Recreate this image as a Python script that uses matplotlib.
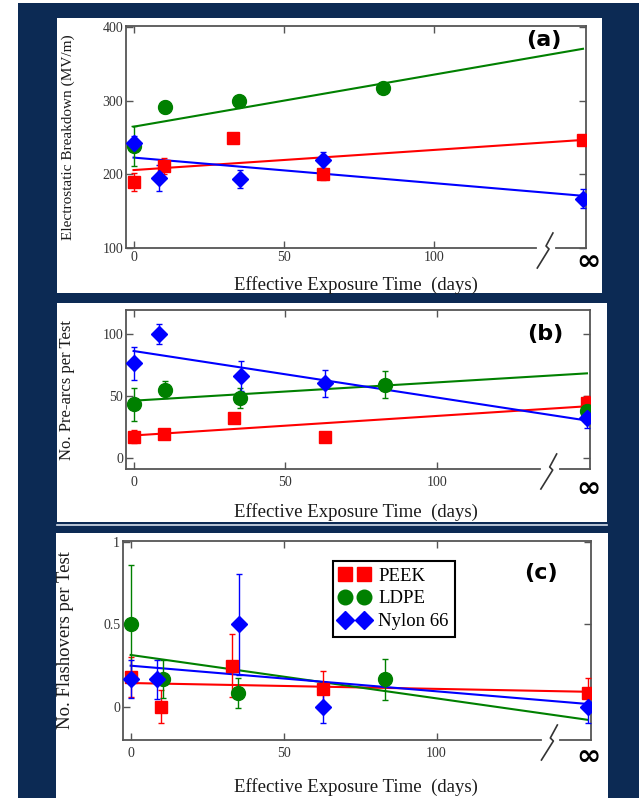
import numpy as np
import matplotlib
matplotlib.use("Agg")
import matplotlib.pyplot as plt
from matplotlib.patches import Rectangle
from matplotlib.lines import Line2D

W, H = 639, 798
X_INF = 149.5          # where the "infinity" exposure is drawn
NAVY = "#0c2a54"
SPINE = "#555555"

materials = ["PEEK", "LDPE", "Nylon 66"]
colors = ["#ff0000", "#008000", "#0000ff"]
markers = ["s", "o", "D"]
msizes = [9, 10, 8.5]

# effective exposure time (days), last point = infinity
days_peek = [0, 10, 33, 63, np.inf]
days_ldpe = [0, 10.5, 35, 83, np.inf]
days_nylon = [0, 8.5, 35.5, 63, np.inf]

# (a) electrostatic breakdown (MV/m)
bd_peek = [190, 211, 249, 201, 247]
bd_peek_err = [12, 11, 0, 8, 3]
bd_ldpe = [239, 292, 300, 317, np.nan]
bd_ldpe_err = [27, 8, 7, 4, np.nan]
bd_nylon = [243, 195, 194, 220, 167]
bd_nylon_err = [10, 18, 12, 11, 13]
bd_fit = [[206, 247], [265, 371], [223, 171]]   # fit value at day 0 and at infinity

# (b) pre-arcs per test
pa_peek = [17, 19, 32, 17, 44]
pa_peek_err = [5, 2, 3, 2, 6]
pa_ldpe = [43, 55, 48, 59, 38]
pa_ldpe_err = [13, 7, 8, 11, 10]
pa_nylon = [76, 100, 66, 60, 32]
pa_nylon_err = [13, 8, 12, 11, 8]
pa_fit = [[18, 41.5], [46, 68], [86, 30]]

# (c) flashovers per test
fo_peek = [0.18, 0.0, 0.25, 0.11, 0.083]
fo_peek_err = [0.12, 0.1, 0.19, 0.105, 0.09]
fo_ldpe = [0.5, 0.167, 0.083, 0.167, np.nan]
fo_ldpe_err = [0.36, 0.115, 0.09, 0.125, np.nan]
fo_nylon = [0.167, 0.167, 0.5, 0.0, 0.0]
fo_nylon_err = [0.115, 0.12, 0.305, 0.1, 0.1]
fo_fit = [[0.145, 0.092], [0.315, -0.078], [0.25, 0.018]]


def fig_rect(x0, y0, x1, y1):
    return (x0 / W, 1 - y1 / H, (x1 - x0) / W, (y1 - y0) / H)


def xpos(days):
    return [X_INF if np.isinf(d) else d for d in days]


fig = plt.figure(figsize=(W / 100, H / 100), dpi=100, facecolor="white")

# navy background and white panels
fig.add_artist(Rectangle((18 / W, 0), 1, 1 - 3 / H, transform=fig.transFigure,
                         facecolor=NAVY, edgecolor="none", zorder=-5))
for x0, y0, x1, y1 in [(57, 18, 602, 293), (57, 303, 607, 522), (56, 533, 608, 800)]:
    l, b, w, h = fig_rect(x0, y0, x1, y1)
    fig.add_artist(Rectangle((l, b), w, h, transform=fig.transFigure,
                             facecolor="white", edgecolor="none", zorder=-4))
fig.add_artist(Line2D([57 / W, 607 / W], [1 - 525 / H] * 2, transform=fig.transFigure,
                      color="#d8e0ec", lw=1.2, zorder=-3))

panels = [
    dict(box=(126, 26, 586, 248), ylim=(100, 402), yticks=[100, 200, 300, 400],
         ylabels=["100", "200", "300", "400"], ylabel="Electrostatic Breakdown (MV/m)",
         vals=[bd_peek, bd_ldpe, bd_nylon], errs=[bd_peek_err, bd_ldpe_err, bd_nylon_err],
         fit=bd_fit, tag="(a)", tagpos=(544, 40), xlab_y=285, inf_y=262, ylab_x=68,
         ylab_size=11, xpad=2),
    dict(box=(126, 310, 590, 469), ylim=(-9, 119), yticks=[0, 50, 100],
         ylabels=["0", "50", "100"], ylabel="No. Pre-arcs per Test",
         vals=[pa_peek, pa_ldpe, pa_nylon], errs=[pa_peek_err, pa_ldpe_err, pa_nylon_err],
         fit=pa_fit, tag="(b)", tagpos=(545, 334), xlab_y=512, inf_y=489, ylab_x=67,
         ylab_size=12, xpad=5),
    dict(box=(123, 541, 591, 740), ylim=(-0.2, 1.005), yticks=[0, 0.5, 1],
         ylabels=["0", "0.5", "1"], ylabel="No. Flashovers per Test",
         vals=[fo_peek, fo_ldpe, fo_nylon], errs=[fo_peek_err, fo_ldpe_err, fo_nylon_err],
         fit=fo_fit, tag="(c)", tagpos=(541, 573), xlab_y=787, inf_y=757, ylab_x=66,
         ylab_size=13.5, xpad=5),
]

all_days = [days_peek, days_ldpe, days_nylon]
serif = "Liberation Serif"

for p in panels:
    ax = fig.add_axes(fig_rect(*p["box"]))
    ax.set_facecolor("white")
    ax.set_xlim(-2.5, 150.5)
    ax.set_ylim(*p["ylim"])

    for i in range(3):
        ax.plot([0, X_INF], p["fit"][i], color=colors[i], lw=1.5, zorder=2)
    for i in range(3):
        ax.errorbar(xpos(all_days[i]), p["vals"][i], yerr=p["errs"][i], fmt=markers[i],
                    color=colors[i], ms=msizes[i], mec=colors[i], elinewidth=1,
                    capsize=2.5, capthick=1, zorder=3)

    ax.set_xticks([0, 50, 100])
    ax.set_xticklabels(["0", "50", "100"])
    ax.set_yticks(p["yticks"])
    ax.set_yticklabels(p["ylabels"])
    ax.tick_params(direction="in", length=5, width=1, color=SPINE, top=True, right=True,
                   labelsize=10, labelcolor="#333333")
    ax.tick_params(axis="x", pad=p["xpad"])
    ax.tick_params(axis="y", pad=2)
    for lab in ax.get_xticklabels() + ax.get_yticklabels():
        lab.set_family(serif)
    for s in ["left", "right", "top"]:
        ax.spines[s].set_color(SPINE)
        ax.spines[s].set_linewidth(1.3)
    ax.spines["bottom"].set_visible(False)

    # bottom spine with axis break
    tr = ax.get_xaxis_transform()
    hpx = p["box"][3] - p["box"][1]
    ax.plot([-2.5, 134], [0, 0], transform=tr, color=SPINE, lw=1.3, clip_on=False)
    ax.plot([140.5, 150.5], [0, 0], transform=tr, color=SPINE, lw=1.3, clip_on=False)
    ax.plot([139.5, 137.2, 138.2, 134.3], [15 / hpx, 2 / hpx, -1 / hpx, -20 / hpx],
            transform=tr, color="#333333", lw=1.2, clip_on=False)

    fig.text(p["tagpos"][0] / W, 1 - p["tagpos"][1] / H, p["tag"], fontsize=16,
             fontweight="bold", family="DejaVu Sans", ha="center", va="center")
    fig.text(588 / W, 1 - p["inf_y"] / H, "\u221e", fontsize=21, fontweight="bold",
             family="DejaVu Sans", ha="center", va="center")
    fig.text(356 / W, 1 - p["xlab_y"] / H, "Effective Exposure Time  (days)", fontsize=13.5,
             family=serif, color="#1a1a1a", ha="center", va="center")
    cy = (p["box"][1] + p["box"][3]) / 2
    fig.text(p["ylab_x"] / W, 1 - cy / H, p["ylabel"], fontsize=p["ylab_size"], family=serif,
             color="#1a1a1a", rotation=90, ha="center", va="center")

    if p["tag"] == "(c)":
        handles = [Line2D([], [], ls="none", marker=markers[i], color=colors[i],
                          ms=msizes[i] + 0.5) for i in range(3)]
        leg = ax.legend(handles, materials, loc="upper left", bbox_to_anchor=(0.449, 0.90),
                        borderaxespad=0, numpoints=2, handlelength=1.6, handletextpad=0.45,
                        labelspacing=0.3, borderpad=0.35, fancybox=False, framealpha=1,
                        edgecolor="black", prop={"family": serif, "size": 13.5})
        leg.get_frame().set_linewidth(1.5)

fig.savefig("out.png", dpi=100, facecolor=fig.get_facecolor())
